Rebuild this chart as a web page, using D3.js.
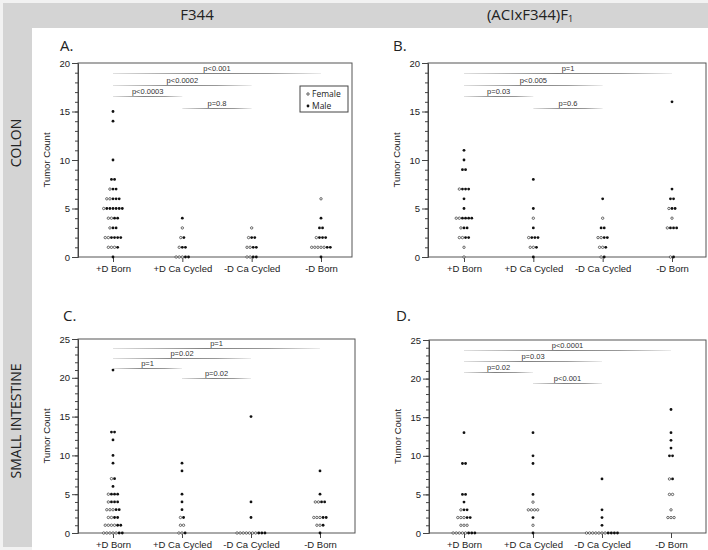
<!DOCTYPE html>
<html><head><meta charset="utf-8">
<script src="https://cdn.jsdelivr.net/npm/d3@7"></script>
<style>body{margin:0;background:#fff}svg{display:block}</style>
</head><body><svg id="c" width="708" height="550"></svg>
<script>
// ---------------- DATA ----------------
const categories = ["+D Born", "+D Ca Cycled", "-D Ca Cycled", "-D Born"];
const strainLabels = ["F344", "(ACIxF344)F"];
const tissueLabels = ["COLON", "SMALL INTESTINE"];
const panelLetters = ["A.", "B.", "C.", "D."];
const legendLabels = ["Female", "Male"];

// rows: [categoryIndex, tumorCount, females, males]
const colonF344 = [
  [0,15,0,1],[0,14,0,1],[0,10,0,1],[0,8,0,2],[0,7,1,2],[0,6,2,3],[0,5,1,6],[0,4,2,2],[0,3,1,2],[0,2,2,4],[0,1,3,1],[0,0,0,1],
  [1,4,0,1],[1,3,1,0],[1,2,1,1],[1,1,1,2],[1,0,3,2],
  [2,3,1,0],[2,2,1,2],[2,1,2,2],[2,0,2,2],
  [3,6,1,0],[3,4,0,1],[3,3,0,2],[3,2,1,3],[3,1,5,2],[3,0,0,1]
];
const colonF1 = [
  [0,11,0,1],[0,10,0,1],[0,9,0,2],[0,7,1,3],[0,6,0,1],[0,5,0,1],[0,4,2,4],[0,3,1,2],[0,2,2,2],[0,1,1,0],[0,0,1,0],
  [1,8,0,1],[1,5,0,1],[1,4,1,0],[1,3,0,1],[1,2,1,3],[1,1,2,1],[1,0,0,1],
  [2,6,0,1],[2,4,1,0],[2,3,0,2],[2,2,2,2],[2,1,2,1],[2,0,1,1],
  [3,16,0,1],[3,7,0,1],[3,6,0,2],[3,5,1,2],[3,4,1,0],[3,3,1,3],[3,0,1,1]
];
const siF344 = [
  [0,21,0,1],[0,13,0,2],[0,12,0,1],[0,10,0,1],[0,9,0,1],[0,7,1,1],[0,6,0,1],[0,5,1,3],[0,4,1,3],[0,3,3,2],[0,2,2,2],[0,1,4,2],[0,0,5,2],
  [1,9,0,1],[1,8,0,1],[1,5,0,1],[1,4,0,1],[1,3,0,1],[1,2,1,1],[1,1,2,0],[1,0,2,1],
  [2,15,0,1],[2,4,0,1],[2,2,0,1],[2,0,7,3],
  [3,8,0,1],[3,5,0,1],[3,4,2,2],[3,2,3,2],[3,1,2,1],[3,0,0,1]
];
const siF1 = [
  [0,13,0,1],[0,9,0,2],[0,5,0,2],[0,4,0,1],[0,3,1,2],[0,2,3,2],[0,1,3,0],[0,0,5,3],
  [1,13,0,1],[1,10,0,1],[1,9,0,1],[1,5,0,1],[1,4,1,0],[1,3,4,0],[1,2,0,1],[1,1,1,0],[1,0,0,1],
  [2,7,0,1],[2,3,0,1],[2,2,0,1],[2,1,0,1],[2,0,7,4],
  [3,16,0,1],[3,13,0,1],[3,12,0,1],[3,11,0,1],[3,10,0,2],[3,7,1,1],[3,5,2,0],[3,3,1,0],[3,2,3,0]
];

// comparisons: [fromCategory, toCategory, label, stackLevel]
const pColonF344 = [[0,3,"p<0.001",0],[0,2,"p<0.0002",1],[0,1,"p<0.0003",2],[1,2,"p=0.8",3]];
const pColonF1   = [[0,3,"p=1",0],[0,2,"p<0.005",1],[0,1,"p=0.03",2],[1,2,"p=0.6",3]];
const pSiF344    = [[0,3,"p=1",0],[0,2,"p=0.02",1],[0,1,"p=1",2],[1,2,"p=0.02",3]];
const pSiF1      = [[0,3,"p<0.0001",0],[0,2,"p=0.03",1],[0,1,"p=0.02",2],[1,2,"p<0.001",3]];

const yMaxColon = 20, yMaxSI = 25;

// ---------------- LAYOUT ----------------
const svg = d3.select("#c");
const GRAY = "#d4d4d4";
const headFont = "'Open Sans', 'DejaVu Sans', sans-serif";
const axFont = "'Liberation Sans', Arial, sans-serif";

svg.append("rect").attr("x",0).attr("y",0).attr("width",708).attr("height",550).attr("fill","#f2f2f2");
svg.append("rect").attr("x",3).attr("y",3).attr("width",705).attr("height",25).attr("fill",GRAY);
svg.append("rect").attr("x",3).attr("y",3).attr("width",29).attr("height",544).attr("fill",GRAY);
svg.append("rect").attr("x",32).attr("y",28).attr("width",676).attr("height",522).attr("fill","#fff");

// headers
svg.append("text").attr("x",197).attr("y",20).attr("text-anchor","middle")
  .style("font-family",headFont).style("font-size","15px").attr("fill","#222").text(strainLabels[0]);
const h2 = svg.append("text").attr("x",530).attr("y",20).attr("text-anchor","middle")
  .style("font-family",headFont).style("font-size","15px").attr("fill","#222");
h2.append("tspan").text(strainLabels[1]);
h2.append("tspan").attr("font-size","9px").attr("dy",2).text("1");

svg.append("text").attr("transform","translate(21,143) rotate(-90)").attr("text-anchor","middle")
  .style("font-family",headFont).style("font-size","14px").attr("fill","#222").text(tissueLabels[0]);
svg.append("text").attr("transform","translate(21,421) rotate(-90)").attr("text-anchor","middle")
  .style("font-family",headFont).style("font-size","14px").attr("fill","#222").text(tissueLabels[1]);

// gradient for comparison lines
const defs = svg.append("defs");
const grad = defs.append("linearGradient").attr("id","pg").attr("x1","0%").attr("x2","100%");
grad.append("stop").attr("offset","0%").attr("stop-color","#e0e0e0");
grad.append("stop").attr("offset","45%").attr("stop-color","#808080");
grad.append("stop").attr("offset","75%").attr("stop-color","#9a9a9a");
grad.append("stop").attr("offset","100%").attr("stop-color","#ececec");

const panels = [
  {data: colonF344, p: pColonF344, yMax: yMaxColon, x0:78, x1:352, y0:63, y1:257, cx:[113,321], lx:60, ly:51, pFirst:10, pGap:11.7, legend:true},
  {data: colonF1,   p: pColonF1,   yMax: yMaxColon, x0:428, x1:706, y0:63, y1:257, cx:[464,672], lx:393, ly:51, pFirst:10, pGap:11.7},
  {data: siF344,    p: pSiF344,    yMax: yMaxSI,    x0:78, x1:355, y0:339, y1:533, cx:[113,320], lx:63, ly:321, pFirst:9, pGap:10},
  {data: siF1,      p: pSiF1,      yMax: yMaxSI,    x0:429, x1:706, y0:340, y1:533, cx:[464,671], lx:396, ly:321, pFirst:10, pGap:11}
];

const SPACING = 3.1;

panels.forEach((P, pi) => {
  const g = svg.append("g");
  const x = d3.scalePoint().domain(categories).range(P.cx);
  const y = d3.scaleLinear().domain([0, P.yMax]).range([P.y1, P.y0]);

  g.append("text").attr("x",P.lx).attr("y",P.ly).style("font-family",headFont)
    .style("font-size","15px").attr("fill","#222").text(panelLetters[pi]);

  // frame
  g.append("rect").attr("x",P.x0).attr("y",P.y0).attr("width",P.x1-P.x0).attr("height",P.y1-P.y0)
    .attr("fill","none").attr("stroke","#555").attr("stroke-width",1);

  // minor ticks
  const minor = d3.axisLeft(y).tickValues(d3.range(0,P.yMax+1,1)).tickSize(3).tickFormat("");
  g.append("g").attr("transform",`translate(${P.x0},0)`).call(minor)
    .call(s=>{s.select(".domain").remove(); s.selectAll("line").attr("stroke","#444");});
  // major ticks
  const major = d3.axisLeft(y).tickValues(d3.range(0,P.yMax+1,5)).tickSize(6).tickPadding(2);
  g.append("g").attr("transform",`translate(${P.x0},0)`).call(major)
    .call(s=>{s.select(".domain").attr("stroke","#444"); s.selectAll("line").attr("stroke","#444");
      s.selectAll("text").style("font-family",axFont).style("font-size","9.5px").attr("fill","#222");});
  // x axis
  const xa = d3.axisBottom(x).tickSize(5).tickPadding(3);
  g.append("g").attr("transform",`translate(0,${P.y1})`).call(xa)
    .call(s=>{s.select(".domain").remove(); s.selectAll("line").attr("stroke","#444");
      s.selectAll("text").style("font-family",axFont).style("font-size","9.5px").attr("fill","#222");});

  // y title
  g.append("text").attr("transform",`translate(${P.x0-28},${(P.y0+P.y1)/2}) rotate(-90)`)
    .attr("text-anchor","middle").style("font-family",axFont).style("font-size","9.5px").attr("fill","#222")
    .text("Tumor Count");

  // comparison lines
  P.p.forEach(([a,b,label,lvl]) => {
    const ly = Math.round(P.y0 + P.pFirst + lvl*P.pGap);
    const xa0 = x(categories[a]), xb = x(categories[b]);
    g.append("rect").attr("x",xa0).attr("y",ly).attr("width",xb-xa0).attr("height",1).attr("fill","url(#pg)");
    g.append("text").attr("x",(xa0+xb)/2).attr("y",ly-2).attr("text-anchor","middle")
      .style("font-family",axFont).style("font-size","7.5px").attr("fill","#333").text(label);
  });

  // dots
  const pts = [];
  P.data.forEach(([ci,v,f,m]) => {
    const n = f+m;
    for (let i=0;i<n;i++) pts.push({cx: x(categories[ci]) + (i-(n-1)/2)*SPACING, v, female: i<f});
  });
  g.selectAll("circle.pt").data(pts).enter().append("circle")
    .attr("cx",d=>d.cx).attr("cy",d=>y(d.v))
    .attr("r",d=>d.female?1.2:1.4)
    .attr("fill",d=>d.female?"#fff":"#111")
    .attr("stroke",d=>d.female?"#444":"none").attr("stroke-width",0.8);

  if (P.legend) {
    const lg = g.append("g");
    lg.append("rect").attr("x",300).attr("y",86).attr("width",48).attr("height",26)
      .attr("fill","#fff").attr("stroke","#444").attr("stroke-width",1);
    legendLabels.forEach((t,i)=>{
      lg.append("circle").attr("cx",308).attr("cy",94+i*12).attr("r",i?1.4:1.2)
        .attr("fill",i?"#111":"#fff").attr("stroke",i?"none":"#333").attr("stroke-width",0.8);
      lg.append("text").attr("x",312).attr("y",97+i*12).style("font-family",headFont)
        .style("font-size","8.5px").attr("fill","#222").text(t);
    });
  }
});
</script></body></html>
